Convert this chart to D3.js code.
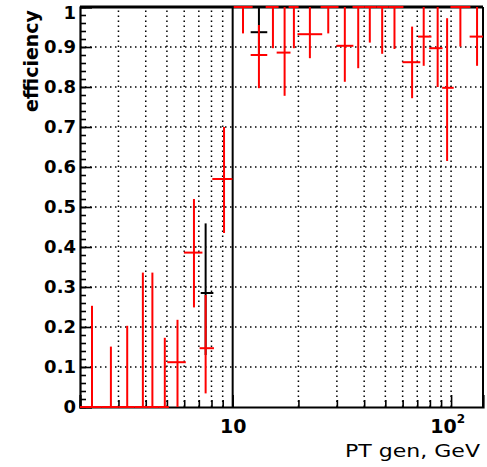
<!DOCTYPE html>
<html>
<head>
<meta charset="utf-8">
<script src="https://cdn.jsdelivr.net/npm/d3@7"></script>
<style>
  html, body { margin: 0; padding: 0; background: #fff; }
  svg { display: block; }
</style>
</head>
<body>
<svg id="chart"></svg>
<script>
// red graph: bin centre, bin edges, efficiency and error-bar ends
const redPt = [2.27, 2.77, 3.29, 3.88, 4.29, 4.89, 5.59, 6.65, 7.52, 9.13, 11.15, 13.19, 15.29, 17.29, 19.07, 22.57, 27.39, 32.62, 37.57, 42.45, 48.36, 55.06, 66.3, 74.93, 86.8, 95.9, 110.3, 131.5]
const redXLo = [2.0, 2.5, 3.01, 3.56, 4.09, 4.59, 5.02, 5.98, 7.06, 8.07, 10.11, 12.09, 14.16, 15.9, 18.04, 19.8, 25.26, 29.9, 35.38, 40.14, 45.53, 51.68, 59.84, 70.6, 79.4, 91.0, 99.3, 121.6]
const redXHi = [2.5, 3.01, 3.56, 4.09, 4.59, 5.1, 6.1, 7.27, 8.21, 9.97, 12.34, 14.4, 16.23, 18.4, 20.04, 25.7, 30.53, 35.7, 40.14, 45.53, 51.68, 60.52, 72.3, 81.3, 91.4, 102.8, 122.6, 140]
const redEff = [0, 0, 0, 0, 0, 0, 0.112, 0.386, 0.147, 0.57, 1, 0.88, 1, 0.886, 1, 0.932, 1, 0.903, 1, 1, 1, 1, 0.862, 0.926, 0.897, 0.798, 1, 0.926]
const redLo = [0, 0, 0, 0, 0, 0, 0, 0.249, 0.034, 0.435, 0.934, 0.797, 0.897, 0.778, 0.897, 0.872, 0.934, 0.813, 0.847, 0.911, 0.883, 0.895, 0.772, 0.853, 0.8, 0.615, 0.901, 0.853]
const redHi = [0.253, 0.151, 0.203, 0.336, 0.336, 0.173, 0.218, 0.52, 0.28, 0.7, 1, 0.955, 1, 1, 1, 1, 1, 1, 1, 1, 1, 1, 0.951, 1, 1, 0.972, 1, 1]

// black graph (mostly hidden under the red one)
const blackPt = [7.52, 13.19]
const blackXLo = [7.14, 12.09]
const blackXHi = [8.16, 14.4]
const blackEff = [0.285, 0.937]
const blackLo = [0.13, 0.88]
const blackHi = [0.459, 1]
const blackEdge = [10]

const yMajor = d3.range(0, 1.0001, 0.1)
const yMinor = d3.range(0, 1.0001, 0.02)
const xMajor = [10, 100]
const xMinor = [2, 3, 4, 5, 6, 7, 8, 9, 20, 30, 40, 50, 60, 70, 80, 90]
const xGrid = [3, 4, 5, 6, 7, 8, 9, 20, 30, 40, 50, 60, 70, 80, 90, 100]
const yGrid = d3.range(0.1, 0.95, 0.1)

const width = 487
const height = 467
const margin = { top: 7, bottom: 60, left: 80, right: 4 }
const bodyW = width - margin.left - margin.right
const bodyH = height - margin.top - margin.bottom

const svg = d3.select('#chart').attr('width', width).attr('height', height)

const xScale = d3.scaleLog().domain([2, 140]).range([margin.left, margin.left + bodyW])
const yScale = d3.scaleLinear().domain([0, 1]).range([margin.top + bodyH, margin.top])
const x0 = margin.left, x1 = margin.left + bodyW
const y0 = margin.top + bodyH, y1 = margin.top

// grid
const grid = svg.append('g')
  .attr('stroke', '#000')
  .attr('stroke-width', 1.5)
  .attr('stroke-dasharray', '1.5 3.5')
grid.selectAll('.gy').data(yGrid).enter().append('line')
  .attr('x1', x0).attr('x2', x1)
  .attr('y1', (d) => yScale(d)).attr('y2', (d) => yScale(d))
grid.selectAll('.gx').data(xGrid).enter().append('line')
  .attr('x1', (d) => xScale(d)).attr('x2', (d) => xScale(d))
  .attr('y1', y0).attr('y2', y1)

// axes
const fmtY = (d) => (d === 0 || Math.abs(d - 1) < 1e-9 ? d3.format('d')(Math.round(d)) : d3.format('.1f')(d))

const axisY = svg.append('g')
  .attr('transform', `translate(${x0},0)`)
  .call(d3.axisLeft(yScale).tickValues(yMajor).tickFormat(fmtY).tickSize(-12).tickPadding(4))
svg.append('g')
  .attr('transform', `translate(${x0},0)`)
  .call(d3.axisLeft(yScale).tickValues(yMinor).tickFormat('').tickSize(-6))
  .call((g) => g.select('.domain').remove())

const axisX = svg.append('g')
  .attr('transform', `translate(0,${y0})`)
  .call(d3.axisBottom(xScale).tickValues(xMajor).tickFormat(() => '10').tickSize(-12).tickPadding(13))
svg.append('g')
  .attr('transform', `translate(0,${y0})`)
  .call(d3.axisBottom(xScale).tickValues(xMinor).tickFormat('').tickSize(-7))
  .call((g) => g.select('.domain').remove())

svg.selectAll('.tick line').attr('stroke', '#000').attr('stroke-width', 1.6)
svg.selectAll('.domain').attr('stroke', '#000').attr('stroke-width', 2.2)

axisY.selectAll('text')
  .attr('font-family', 'DejaVu Sans')
  .attr('font-weight', 'bold')
  .attr('font-size', 18)
  .attr('fill', '#000')

// the top label sits lower so it stays inside the picture
axisY.selectAll('.tick').filter((d) => Math.abs(d - 1) < 1e-9).select('text')
  .attr('dy', '0.62em')

axisX.selectAll('text')
  .attr('font-family', 'DejaVu Sans')
  .attr('font-weight', 'bold')
  .attr('font-size', 19)
  .attr('fill', '#000')

axisX.selectAll('.tick').filter((d) => d === 100).select('text')
  .attr('dx', -4)
  .append('tspan')
  .attr('font-size', 12)
  .attr('dy', -10)
  .text('2')

// frame
svg.append('line').attr('x1', x0).attr('x2', x1).attr('y1', y1).attr('y2', y1)
  .attr('stroke', '#000').attr('stroke-width', 3)
svg.append('line').attr('x1', x1).attr('x2', x1).attr('y1', y1).attr('y2', y0)
  .attr('stroke', '#000').attr('stroke-width', 2)

// black edge at 10
svg.selectAll('.edge').data(blackEdge).enter().append('line')
  .attr('x1', (d) => xScale(d)).attr('x2', (d) => xScale(d))
  .attr('y1', y0).attr('y2', y1)
  .attr('stroke', '#000').attr('stroke-width', 2)

const drawGraph = (pt, xlo, xhi, eff, lo, hi, colour) => {
  const g = svg.append('g').attr('stroke', colour).attr('stroke-width', 2)
  const idx = d3.range(pt.length)
  g.selectAll('.v').data(idx).enter().append('line')
    .attr('x1', (i) => xScale(pt[i])).attr('x2', (i) => xScale(pt[i]))
    .attr('y1', (i) => yScale(lo[i])).attr('y2', (i) => yScale(hi[i]))
  g.selectAll('.h').data(idx).enter().append('line')
    .attr('x1', (i) => xScale(xlo[i])).attr('x2', (i) => xScale(xhi[i]))
    .attr('y1', (i) => yScale(eff[i])).attr('y2', (i) => yScale(eff[i]))
}

drawGraph(blackPt, blackXLo, blackXHi, blackEff, blackLo, blackHi, '#000')
drawGraph(redPt, redXLo, redXHi, redEff, redLo, redHi, '#ff0000')

// titles
svg.append('text')
  .attr('transform', 'translate(38,10) rotate(-90)')
  .attr('text-anchor', 'end')
  .attr('font-family', 'DejaVu Sans')
  .attr('font-weight', 'bold')
  .attr('font-size', 19)
  .attr('fill', '#000')
  .text('efficiency')

svg.append('text')
  .attr('x', 480)
  .attr('y', 457)
  .attr('text-anchor', 'end')
  .attr('font-family', 'DejaVu Sans')
  .attr('font-size', 17)
  .attr('textLength', 135)
  .attr('lengthAdjust', 'spacingAndGlyphs')
  .attr('fill', '#000')
  .text('PT gen, GeV')
</script>
</body>
</html>
